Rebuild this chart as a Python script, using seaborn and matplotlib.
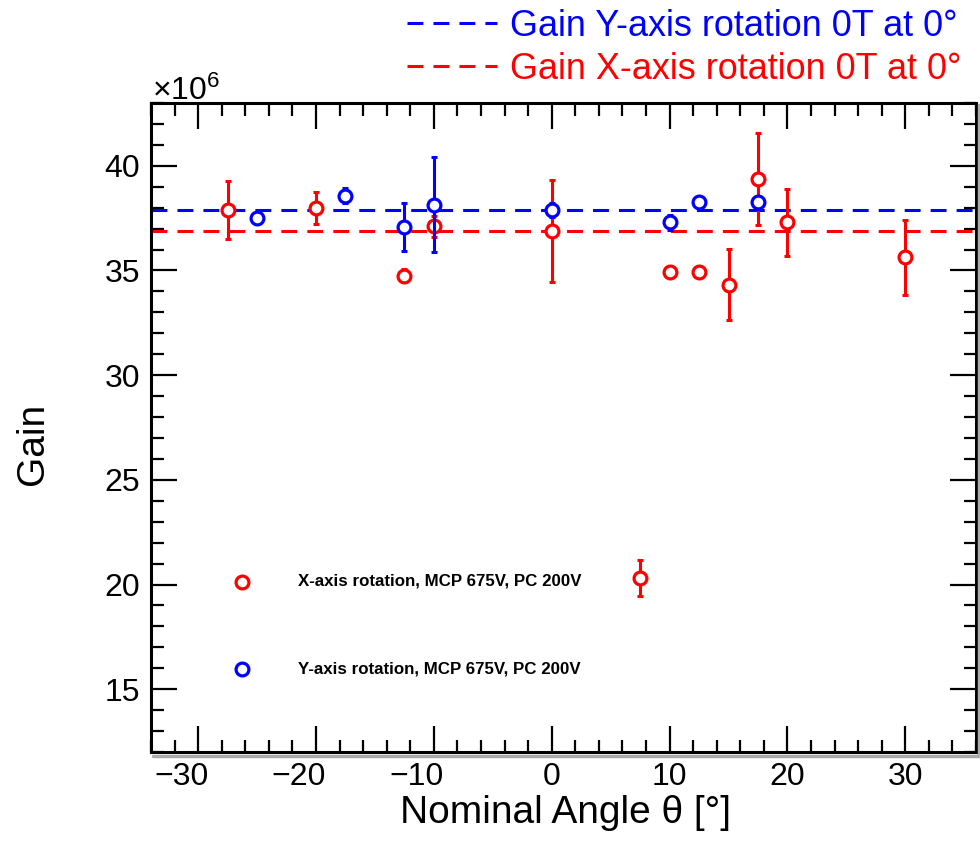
import numpy as np
import pandas as pd
import seaborn as sns
import matplotlib.pyplot as plt
from matplotlib.ticker import MultipleLocator
from matplotlib.lines import Line2D
from matplotlib.transforms import ScaledTranslation

# ---- data (gain in units of 1e6) ----
x_red = [-27.5, -20, -12.5, -10, 0, 7.5, 10, 12.5, 15, 17.5, 20, 30]
y_red = [37.89, 37.99, 34.76, 37.11, 36.88, 20.32, 34.92, 34.95, 34.32, 39.37, 37.30, 35.64]
e_red = [1.37, 0.77, 0.30, 0.50, 2.44, 0.85, 0.25, 0.25, 1.69, 2.19, 1.60, 1.79]

x_blue = [-25, -17.5, -12.5, -10, 0, 10, 12.5, 17.5]
y_blue = [37.51, 38.57, 37.07, 38.14, 37.89, 37.30, 38.26, 38.26]
e_blue = [0.25, 0.37, 1.15, 2.27, 0.35, 0.37, 0.25, 0.30]

ref_blue = 37.9
ref_red = 36.9

label_red = "X-axis rotation, MCP 675V, PC 200V"
label_blue = "Y-axis rotation, MCP 675V, PC 200V"
label_ref_blue = "Gain Y-axis rotation 0T at 0°"
label_ref_red = "Gain X-axis rotation 0T at 0°"

df_red = pd.DataFrame({"angle": x_red, "gain": y_red, "err": e_red})
df_blue = pd.DataFrame({"angle": x_blue, "gain": y_blue, "err": e_blue})

sns.set_theme(style="ticks")
plt.rcParams["font.family"] = ["Liberation Sans", "DejaVu Sans"]
plt.rcParams["axes.linewidth"] = 2.2
plt.rcParams["text.color"] = "black"

RED = "#ff0000"
BLUE = "#0000ff"

fig = plt.figure(figsize=(9.8, 8.56), dpi=100)
ax = fig.add_axes([151 / 980, 1 - 752 / 856, 825 / 980, 649 / 856])

ax.set_xlim(-34, 36)
ax.set_ylim(12, 43)

l_blue = ax.axhline(ref_blue, color=BLUE, lw=2.2, dashes=(5.2, 3.3), zorder=1)
l_red = ax.axhline(ref_red, color=RED, lw=2.2, dashes=(5.2, 3.3), zorder=1)

ax.errorbar(df_red["angle"], df_red["gain"], yerr=df_red["err"], fmt="none",
            ecolor=RED, elinewidth=2.2, capsize=2.5, capthick=2.2, zorder=2)
sns.scatterplot(data=df_red, x="angle", y="gain", ax=ax, marker="o", s=85,
                color="white", edgecolor=RED, linewidth=2.3, zorder=3,
                label=label_red)
ax.errorbar(df_blue["angle"], df_blue["gain"], yerr=df_blue["err"], fmt="none",
            ecolor=BLUE, elinewidth=2.2, capsize=2.5, capthick=2.2, zorder=4)
sns.scatterplot(data=df_blue, x="angle", y="gain", ax=ax, marker="o", s=85,
                color="white", edgecolor=BLUE, linewidth=2.3, zorder=5,
                label=label_blue)

# ticks
ax.xaxis.set_major_locator(MultipleLocator(10))
ax.xaxis.set_minor_locator(MultipleLocator(2))
ax.yaxis.set_major_locator(MultipleLocator(5))
ax.yaxis.set_minor_locator(MultipleLocator(1))
ax.tick_params(which="both", direction="in", top=True, right=True,
               width=1.6, color="black", labelcolor="black")
ax.tick_params(which="major", length=19, labelsize=23)
ax.tick_params(which="minor", length=9)
ax.tick_params(axis="x", which="major", pad=7)
ax.tick_params(axis="y", which="major", pad=8)
for s in ax.spines.values():
    s.set_color("black")
    s.set_linewidth(2.2)

# negative x labels sit slightly left of their ticks in the reference
for lbl in ax.get_xticklabels():
    if lbl.get_text().startswith("\u2212"):
        lbl.set_transform(lbl.get_transform() + ScaledTranslation(-0.17, 0, fig.dpi_scale_trans))

ax.set_xlabel("Nominal Angle θ [°]", fontsize=28, color="black")
ax.set_ylabel("Gain", fontsize=28, color="black")
ax.xaxis.set_label_coords(0.502, -0.066)
ax.yaxis.set_label_coords(-0.121, 0.475)

# inner legend
h, lab = ax.get_legend_handles_labels()
leg = ax.legend(h, lab, loc="upper left",
                bbox_to_anchor=(225 / 980, 1 - 574 / 856),
                bbox_transform=fig.transFigure,
                frameon=False, borderpad=0, borderaxespad=0, handlelength=2.0,
                handletextpad=2.3, labelspacing=4.3, labelcolor="black",
                prop={"weight": "bold", "size": 12.2})

# top legend (outside axes)
fig.legend([l_blue, l_red], [label_ref_blue, label_ref_red], loc="upper right",
           bbox_to_anchor=(961 / 980, 1 - 9 / 856), frameon=False, borderpad=0,
           borderaxespad=0, handlelength=2.5, handletextpad=0.36, labelspacing=0.22,
           fontsize=25.9, labelcolor="linecolor")

# multiplier label
fig.text(152 / 980, 1 - 100 / 856, r"$\mathregular{\times10^{6}}$",
         fontsize=23, color="black", va="baseline", ha="left")

# frame shadow (ROOT style)
fig.add_artist(Line2D([153 / 980, 979 / 980], [1 - 755.5 / 856, 1 - 755.5 / 856],
                      transform=fig.transFigure, color="#aaaaaa", lw=2.5))
fig.add_artist(Line2D([978.5 / 980, 978.5 / 980], [1 - 105 / 856, 1 - 756 / 856],
                      transform=fig.transFigure, color="#aaaaaa", lw=2.5))

fig.savefig("out.png", dpi=100, facecolor="white")
